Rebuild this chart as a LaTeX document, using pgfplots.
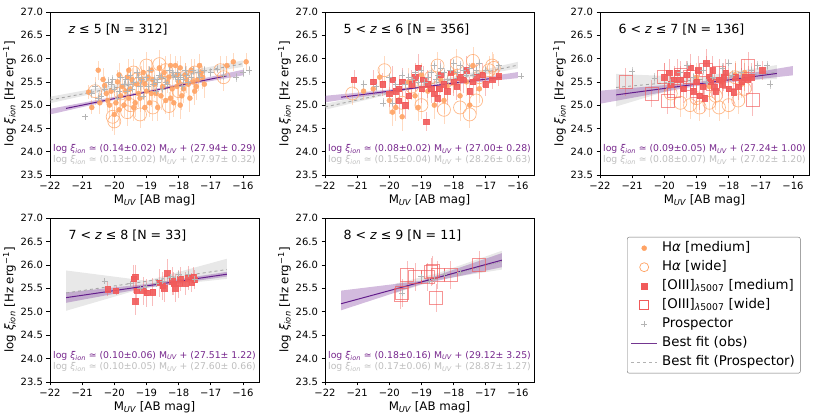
\documentclass[border=0pt]{standalone}
\usepackage{fontspec}
\setmainfont{DejaVu Sans}
\usepackage{pgfplots}
\pgfplotsset{compat=1.18}
\definecolor{haor}{RGB}{255,163,100}
\definecolor{oiii}{RGB}{241,90,90}
\definecolor{pros}{RGB}{180,180,180}
\definecolor{fitp}{RGB}{100,30,140}
\definecolor{bandp}{RGB}{128,60,160}
\definecolor{txtp}{RGB}{118,38,140}
\definecolor{txtg}{RGB}{190,190,190}
\newcommand{\xion}{{\itshape ξ}\textsubscript{\itshape ion}}
\newcommand{\muv}{M\textsubscript{\itshape UV}}
\tikzset{
 ttl/.style={anchor=west, font=\fontsize{12.6}{15}\selectfont},
 ann/.style={font=\fontsize{9.3}{11}\selectfont},
}
\pgfplotsset{
 panel/.style={scale only axis, width=209pt, height=163pt,
  xmin=-22, xmax=-15.5, ymin=23.5, ymax=27.0,
  xtick={-22,-21,-20,-19,-18,-17,-16},
  xticklabels={−22,−21,−20,−19,−18,−17,−16},
  ytick={23.5,24.0,24.5,25.0,25.5,26.0,26.5,27.0},
  yticklabel style={/pgf/number format/.cd, fixed, fixed zerofill, precision=1, assume math mode=true},
  tick label style={font=\fontsize{10}{12}\selectfont},
  label style={font=\fontsize{11.8}{13}\selectfont},
  xlabel={\muv{} [AB mag]}, ylabel={log \xion{} [Hz erg\textsuperscript{−1}]},
  tick align=outside, xtick pos=bottom, ytick pos=left,
  major tick length=3.5pt, tick style={black, line width=0.6pt},
  axis line style={line width=0.6pt},
  xlabel style={yshift=2pt}, ylabel style={yshift=-2pt},
 },
 hamed/.style={only marks, mark=*, mark size=2.5pt, color=haor,
  mark options={fill=haor, draw=haor, opacity=0.9},
  error bars/.cd, y dir=both, y explicit, error mark=none,
  error bar style={haor, opacity=0.4, line width=0.8pt}},
 hawide/.style={only marks, mark=o, mark size=6.5pt, color=haor,
  mark options={draw=haor, line width=0.7pt, opacity=0.75},
  error bars/.cd, y dir=both, y explicit, error mark=none,
  error bar style={haor, opacity=0.4, line width=0.8pt}},
 omed/.style={only marks, mark=square*, mark size=2.7pt, color=oiii,
  mark options={fill=oiii, draw=oiii, opacity=0.9},
  error bars/.cd, y dir=both, y explicit, error mark=none,
  error bar style={oiii, opacity=0.4, line width=0.8pt}},
 owide/.style={only marks, mark=square, mark size=6.5pt, color=oiii,
  mark options={draw=oiii, line width=0.7pt, opacity=0.65},
  error bars/.cd, y dir=both, y explicit, error mark=none,
  error bar style={oiii, opacity=0.4, line width=0.8pt}},
 prosp/.style={only marks, mark=+, mark size=3pt, color=pros,
  mark options={draw=pros, line width=0.6pt},
  error bars/.cd, y dir=both, y explicit, error mark=none,
  error bar style={pros, opacity=0.6, line width=0.6pt}},
 pband/.style={fill=bandp, fill opacity=0.35, draw=none},
 gband/.style={fill=black!30, fill opacity=0.3, draw=none},
 obsfit/.style={fitp, line width=1pt},
 prfit/.style={black!35, dashed, line width=0.9pt},
 marklegend/.style={legend image code/.code={\draw[mark repeat=2,mark phase=2,##1] plot coordinates {(0pt,0pt) (13pt,0pt) (26pt,0pt)};}},
 linelegend/.style={legend image code/.code={\draw[##1] (0pt,0pt) -- (26pt,0pt);}},
}
\begin{document}
\begin{tikzpicture}
\path[use as bounding box] (0,0) rectangle (831pt,419pt);
% ---------------- Panel 1 ----------------
\begin{axis}[panel, at={(50pt,244pt)}, anchor=south west]
\addplot[gband] coordinates {(-22,25.04) (-19,25.50) (-16,25.82) (-16,25.96) (-19,25.56) (-22,25.18)} -- cycle;
\addplot[pband] coordinates {(-22,24.80) (-19,25.27) (-16,25.64) (-16,25.76) (-19,25.31) (-22,24.92)} -- cycle;
\addplot[hamed] table[y error=e] {
x y e
-20.8 25.28 0.15
-20.7 24.95 0.15
-20.5 25.75 0.2
-20.3 25.42 0.2
-20.2 25.1 0.25
-20.1 25.3 0.2
-20.0 24.8 0.3
-19.9 25.5 0.25
-19.8 25.2 0.3
-19.7 25.0 0.25
-19.6 25.6 0.2
-19.5 25.35 0.3
-19.4 24.95 0.3
-19.3 25.45 0.25
-19.2 25.15 0.3
-19.1 25.7 0.25
-19.0 25.3 0.3
-18.9 25.05 0.3
-18.8 25.55 0.25
-18.7 25.25 0.3
-18.6 25.8 0.2
-18.5 25.4 0.3
-18.4 25.1 0.3
-18.3 25.6 0.25
-18.2 25.35 0.3
-18.1 25.85 0.2
-18.0 25.5 0.3
-17.9 25.2 0.3
-17.8 25.65 0.25
-17.7 25.45 0.3
-17.6 25.75 0.25
-17.5 25.3 0.3
-17.4 25.55 0.25
-17.3 25.7 0.2
-17.2 25.45 0.3
-16.5 25.85 0.2
-16.3 25.93 0.2
-15.9 25.93 0.2
-19.95 25.05 0.25
-19.45 25.55 0.25
-18.95 25.6 0.25
-18.45 25.7 0.2
-18.15 25.05 0.3
-17.95 25.8 0.25
-19.25 25.25 0.3
-18.65 24.95 0.3
-19.75 25.4 0.25
-18.35 25.5 0.25
-17.65 25.15 0.3
-20.25 25.25 0.25
-19.55 25.15 0.3
-19.05 25.45 0.3
-18.55 25.2 0.3
-18.05 25.4 0.3
-17.55 25.5 0.3
-19.85 25.65 0.25
-18.85 25.75 0.25
-17.85 25.35 0.3
-20.35 25.55 0.25
-20.15 25.0 0.3
-19.65 25.3 0.3
-19.35 25.05 0.3
-19.15 25.55 0.3
-18.75 25.45 0.3
-18.25 25.15 0.3
-17.75 25.55 0.3
-17.45 25.4 0.3
-17.25 25.6 0.25
-19.05 24.95 0.3
-18.55 25.6 0.3
-18.05 25.65 0.3
-19.55 25.75 0.25
-20.45 25.05 0.25
-17.35 25.85 0.25
-18.85 25.25 0.3
-19.85 24.9 0.3
-18.25 25.85 0.25
-17.95 25.0 0.3
};
\addplot[hawide] table[y error=e] {
x y e
-20.0 24.65 0.3
-20.05 24.75 0.3
-19.6 24.85 0.3
-19.2 24.8 0.3
-18.8 24.95 0.3
-18.3 24.98 0.3
-19.0 25.85 0.3
-18.6 25.88 0.3
-18.4 25.75 0.3
-19.3 25.55 0.3
-19.8 25.25 0.3
-17.8 25.6 0.3
-16.7 25.75 0.3
-16.6 25.6 0.3
-20.6 25.3 0.3
-19.5 25.0 0.3
-18.0 25.3 0.3
-17.5 25.7 0.3
-18.9 25.4 0.3
-19.4 25.7 0.3
};
\addplot[prosp] table[y error=e] {
x y e
-20.9 24.75 0.05
-20.6 25.4 0.1
-20.4 25.2 0.1
-20.2 25.5 0.1
-20.0 25.35 0.1
-19.8 25.6 0.1
-19.6 25.3 0.1
-19.4 25.5 0.1
-19.2 25.4 0.1
-19.0 25.6 0.1
-18.8 25.45 0.1
-18.6 25.65 0.1
-18.4 25.5 0.1
-18.2 25.7 0.1
-18.0 25.55 0.1
-17.8 25.75 0.1
-17.6 25.6 0.1
-17.4 25.7 0.1
-17.2 25.75 0.1
-17.0 25.7 0.1
-16.6 25.65 0.1
-16.2 25.6 0.1
-15.8 25.75 0.1
-16.0 25.7 0.1
-19.9 25.15 0.1
-19.5 25.65 0.1
-19.1 25.2 0.1
-18.7 25.3 0.1
-18.3 25.75 0.1
-17.9 25.4 0.1
-20.1 25.45 0.1
-19.3 25.7 0.1
-18.5 25.35 0.1
-17.7 25.5 0.1
-20.5 25.15 0.1
-20.7 25.25 0.1
-16.8 25.78 0.1
-18.9 25.75 0.1
-19.7 25.45 0.1
-18.1 25.6 0.1
-20.3 25.35 0.1
-20.05 25.55 0.1
-19.85 25.3 0.1
-19.65 25.55 0.1
-19.45 25.35 0.1
-19.15 25.55 0.1
-18.95 25.4 0.1
-18.75 25.55 0.1
-18.55 25.6 0.1
-18.35 25.45 0.1
-18.15 25.65 0.1
-17.95 25.6 0.1
-17.75 25.65 0.1
-17.55 25.75 0.1
-17.35 25.6 0.1
-19.55 25.45 0.1
-18.65 25.5 0.1
-18.05 25.7 0.1
-17.85 25.55 0.1
-19.25 25.6 0.1
};
\addplot[prfit] coordinates {(-22,25.11) (-16,25.89)};
\addplot[obsfit] coordinates {(-21.5,24.93) (-16.5,25.63)};
\node[ttl] at (rel axis cs:0.072,0.89) {{\itshape z} ≤ 5 [N = 312]};
\node[ann, text=txtp] at (rel axis cs:0.5,0.16) {log \xion{} ≃ (0.14±0.02) \muv{} + (27.94± 0.29)};
\node[ann, text=txtg] at (rel axis cs:0.5,0.091) {log \xion{} ≃ (0.13±0.02) \muv{} + (27.97± 0.32)};
\end{axis}
% ---------------- Panel 2 ----------------
\begin{axis}[panel, at={(325pt,244pt)}, anchor=south west]
\addplot[gband] coordinates {(-22,24.90) (-19,25.40) (-16,25.79) (-16,25.93) (-19,25.45) (-22,25.03)} -- cycle;
\addplot[pband] coordinates {(-22,25.06) (-19,25.37) (-16,25.58) (-16,25.71) (-19,25.40) (-22,25.20)} -- cycle;
\addplot[hamed] table[y error=e] {
x y e
-20.8 25.3 0.2
-20.5 25.35 0.2
-20.3 25.6 0.2
-20.0 25.1 0.3
-19.8 24.95 0.3
-19.6 24.75 0.3
-19.4 25.5 0.3
-19.2 25.2 0.3
-19.0 25.65 0.25
-18.8 25.3 0.3
-18.6 25.0 0.3
-18.4 25.55 0.3
-18.2 25.4 0.3
-18.0 25.7 0.25
-17.8 25.2 0.3
-17.6 25.5 0.3
-17.4 25.85 0.25
-17.2 25.35 0.3
-19.9 24.85 0.3
-19.1 24.95 0.3
-18.3 25.1 0.3
-17.5 25.0 0.3
};
\addplot[hawide] table[y error=e] {
x y e
-21.15 25.25 0.25
-20.15 25.75 0.3
-19.6 25.05 0.3
-19.0 25.0 0.3
-18.7 25.6 0.3
-18.3 24.9 0.3
-17.8 24.95 0.3
-17.5 24.8 0.3
-17.3 25.1 0.3
-16.75 25.8 0.3
-17.9 25.9 0.3
-17.4 25.95 0.3
-16.9 25.75 0.3
-18.5 25.85 0.3
-16.8 25.85 0.3
-19.3 25.4 0.3
-18.0 25.55 0.3
-17.2 25.6 0.3
};
\addplot[omed] table[y error=e] {
x y e
-21.1 25.55 0.2
-20.2 25.45 0.25
-19.8 25.3 0.3
-19.6 25.5 0.3
-19.4 25.2 0.3
-19.2 25.6 0.3
-19.0 25.35 0.3
-18.85 24.65 0.2
-18.8 25.45 0.3
-18.6 25.25 0.3
-18.4 25.65 0.3
-18.2 25.3 0.3
-18.0 25.5 0.3
-17.9 25.4 0.3
-17.7 25.55 0.3
-17.5 25.3 0.3
-17.3 25.6 0.3
-17.0 25.45 0.25
-16.6 25.62 0.2
-16.8 25.55 0.2
-19.5 25.0 0.3
-18.5 25.15 0.3
-17.6 25.75 0.3
-20.0 25.25 0.3
-18.1 25.7 0.3
-19.1 25.8 0.3
-20.5 25.5 0.25
-19.9 25.55 0.3
-19.7 25.35 0.3
-19.3 25.45 0.3
-18.95 25.55 0.3
-18.7 25.35 0.3
-18.3 25.45 0.3
-17.8 25.6 0.3
-17.4 25.5 0.3
-17.1 25.65 0.25
-19.7 25.1 0.3
-18.45 25.35 0.3
};
\addplot[prosp] table[y error=e] {
x y e
-20.8 25.45 0.1
-20.2 25.05 0.1
-19.9 25.05 0.1
-20.0 25.6 0.1
-19.6 25.65 0.1
-19.3 25.55 0.1
-19.0 25.75 0.1
-18.7 25.7 0.1
-18.4 25.8 0.1
-18.1 25.75 0.1
-17.8 25.85 0.1
-17.5 25.8 0.1
-17.2 25.9 0.1
-17.0 25.75 0.1
-16.6 25.85 0.1
-15.9 25.62 0.05
-19.5 25.45 0.1
-19.1 25.5 0.1
-18.8 25.6 0.1
-18.5 25.65 0.1
-18.2 25.55 0.1
-17.9 25.7 0.1
-17.6 25.65 0.1
-17.3 25.75 0.1
-20.4 25.4 0.1
-18.0 25.9 0.1
-18.6 25.85 0.1
-19.8 25.45 0.1
-19.4 25.6 0.1
-18.9 25.5 0.1
-18.3 25.7 0.1
-17.7 25.75 0.1
-17.4 25.65 0.1
-19.2 25.7 0.1
-18.55 25.55 0.1
};
\addplot[prfit] coordinates {(-22,24.96) (-16,25.86)};
\addplot[obsfit] coordinates {(-21.5,25.17) (-16.5,25.60)};
\node[ttl] at (rel axis cs:0.072,0.89) {5 < {\itshape z} ≤ 6 [N = 356]};
\node[ann, text=txtp] at (rel axis cs:0.5,0.16) {log \xion{} ≃ (0.08±0.02) \muv{} + (27.00± 0.28)};
\node[ann, text=txtg] at (rel axis cs:0.5,0.091) {log \xion{} ≃ (0.15±0.04) \muv{} + (28.26± 0.63)};
\end{axis}
% ---------------- Panel 3 ----------------
\begin{axis}[panel, at={(600pt,244pt)}, anchor=south west]
\addplot[gband] coordinates {(-21.5,24.97) (-19,25.49) (-16.5,25.56) (-16.5,25.86) (-19,25.60) (-21.5,25.67)} -- cycle;
\addplot[pband] coordinates {(-22,25.03) (-19,25.41) (-16,25.64) (-16,25.84) (-19,25.49) (-22,25.31)} -- cycle;
\addplot[hawide] table[y error=e] {
x y e
-19.8 25.25 0.3
-19.5 25.05 0.3
-19.2 25.0 0.3
-18.9 24.95 0.3
-18.6 25.05 0.3
-18.3 24.95 0.3
-18.0 25.0 0.3
-17.7 25.1 0.3
-17.5 25.35 0.3
-17.8 25.6 0.3
-19.0 25.15 0.3
-18.4 25.2 0.3
};
\addplot[hamed] table[y error=e] {
x y e
-19.0 25.6 0.3
-18.6 25.4 0.3
-18.2 25.5 0.3
-17.8 25.65 0.3
-17.6 25.45 0.3
-17.5 25.7 0.3
};
\addplot[omed] table[y error=e] {
x y e
-20.0 25.6 0.3
-19.8 25.45 0.3
-19.6 25.7 0.3
-19.4 25.35 0.3
-19.2 25.8 0.3
-19.0 25.5 0.3
-18.9 25.2 0.3
-18.8 25.4 0.3
-18.75 25.15 0.3
-18.6 25.6 0.3
-18.5 25.75 0.3
-18.4 25.3 0.3
-18.3 25.55 0.3
-18.2 25.45 0.3
-18.1 25.7 0.3
-18.0 25.35 0.3
-17.85 25.28 0.3
-17.8 25.6 0.3
-17.6 25.5 0.3
-17.4 25.55 0.3
-17.3 25.6 0.3
-16.95 25.75 0.2
-19.5 25.55 0.3
-19.1 25.3 0.3
-18.7 25.9 0.3
-18.45 25.4 0.3
-19.7 25.55 0.3
-19.3 25.65 0.3
-18.95 25.75 0.3
-18.55 25.5 0.3
-18.15 25.6 0.3
-17.7 25.4 0.3
-17.5 25.6 0.3
-19.85 25.7 0.3
};
\addplot[owide] table[y error=e] {
x y e
-21.2 25.5 0.3
-20.4 25.25 0.3
-20.0 25.6 0.3
-19.9 25.1 0.3
-19.7 25.3 0.3
-19.5 25.65 0.3
-19.3 25.45 0.3
-19.0 25.3 0.3
-18.7 25.75 0.3
-18.3 25.7 0.3
-18.0 25.5 0.3
-17.4 25.85 0.3
-17.25 25.12 0.35
-19.2 25.6 0.3
-18.5 25.45 0.3
};
\addplot[prosp] table[y error=e] {
x y e
-21.0 25.72 0.1
-20.3 25.58 0.1
-19.8 25.5 0.1
-19.5 25.7 0.1
-19.1 25.6 0.1
-18.8 25.75 0.1
-18.5 25.6 0.1
-18.2 25.8 0.1
-17.9 25.65 0.1
-17.6 25.7 0.1
-17.3 25.75 0.1
-17.1 25.85 0.1
-16.8 25.85 0.1
-16.7 25.45 0.1
-18.0 25.9 0.1
-18.7 25.5 0.1
-19.3 25.85 0.1
};
\addplot[prfit] coordinates {(-21.5,25.38) (-16.5,25.70)};
\addplot[obsfit] coordinates {(-21.5,25.22) (-16.5,25.68)};
\node[ttl] at (rel axis cs:0.072,0.89) {6 < {\itshape z} ≤ 7 [N = 136]};
\node[ann, text=txtp] at (rel axis cs:0.5,0.16) {log \xion{} ≃ (0.09±0.05) \muv{} + (27.24± 1.00)};
\node[ann, text=txtg] at (rel axis cs:0.5,0.091) {log \xion{} ≃ (0.08±0.07) \muv{} + (27.02± 1.20)};
\end{axis}
% ---------------- Panel 4 ----------------
\begin{axis}[panel, height=164pt, at={(50pt,37pt)}, anchor=south west]
\addplot[gband] coordinates {(-21.5,25.02) (-19,25.52) (-16.5,25.70) (-16.5,26.13) (-19,25.66) (-21.5,25.88)} -- cycle;
\addplot[pband] coordinates {(-21.5,25.19) (-19,25.51) (-16.5,25.75) (-16.5,25.85) (-19,25.59) (-21.5,25.41)} -- cycle;
\addplot[omed] table[y error=e] {
x y e
-20.2 25.48 0.15
-19.95 25.45 0.1
-19.4 25.7 0.3
-19.35 25.22 0.3
-19.3 25.45 0.3
-19.1 25.45 0.3
-19.0 25.4 0.3
-18.8 25.42 0.3
-18.6 25.62 0.3
-18.5 25.55 0.3
-18.45 25.5 0.3
-18.35 25.82 0.3
-18.2 25.65 0.3
-18.1 25.5 0.3
-18.0 25.6 0.3
-17.95 25.7 0.25
-17.8 25.6 0.25
-17.7 25.72 0.25
-17.6 25.62 0.2
-17.55 25.75 0.2
-17.5 25.68 0.2
-18.15 25.6 0.25
-19.35 25.75 0.25
};
\addplot[prosp] table[y error=e] {
x y e
-20.3 25.65 0.05
-19.5 25.6 0.05
-19.0 25.55 0.05
-18.5 25.65 0.05
-18.25 25.75 0.05
-18.0 25.8 0.05
-17.7 25.8 0.05
-17.5 25.7 0.05
-19.2 25.5 0.05
-18.7 25.6 0.05
};
\addplot[prfit] coordinates {(-21.5,25.40) (-16.5,25.90)};
\addplot[obsfit] coordinates {(-21.5,25.30) (-16.5,25.80)};
\node[ttl] at (rel axis cs:0.072,0.89) {7 < {\itshape z} ≤ 8 [N = 33]};
\node[ann, text=txtp] at (rel axis cs:0.5,0.16) {log \xion{} ≃ (0.10±0.06) \muv{} + (27.51± 1.22)};
\node[ann, text=txtg] at (rel axis cs:0.5,0.091) {log \xion{} ≃ (0.10±0.05) \muv{} + (27.60± 0.66)};
\end{axis}
% ---------------- Panel 5 ----------------
\begin{axis}[panel, height=164pt, at={(325pt,37pt)}, anchor=south west]
\addplot[gband] coordinates {(-19.8,25.40) (-18.5,25.68) (-16.5,25.90) (-16.5,26.30) (-18.5,25.82) (-19.8,25.60)} -- cycle;
\addplot[pband] coordinates {(-21.5,25.03) (-19,25.59) (-16.5,25.95) (-16.5,26.25) (-19,25.66) (-21.5,25.45)} -- cycle;
\addplot[owide] table[y error=e] {
x y e
-19.65 25.35 0.3
-19.6 25.4 0.3
-19.45 25.78 0.3
-19.2 25.75 0.3
-18.8 25.75 0.3
-18.7 25.85 0.3
-18.65 25.88 0.3
-18.55 25.3 0.3
-18.5 25.78 0.3
-18.1 25.78 0.3
-17.2 26.0 0.3
};
\addplot[prosp] table[y error=e] {
x y e
-19.6 25.4 0.05
-19.0 25.75 0.05
-18.75 25.65 0.05
-18.6 25.7 0.05
-18.3 25.8 0.05
-17.8 25.85 0.05
};
\addplot[black!35, densely dotted, line width=1pt] coordinates {(-19.0,25.64) (-16.5,26.07)};
\addplot[obsfit] coordinates {(-21.5,25.17) (-16.5,26.10)};
\node[ttl] at (rel axis cs:0.072,0.89) {8 < {\itshape z} ≤ 9 [N = 11]};
\node[ann, text=txtp] at (rel axis cs:0.5,0.16) {log \xion{} ≃ (0.18±0.16) \muv{} + (29.12± 3.25)};
\node[ann, text=txtg] at (rel axis cs:0.5,0.091) {log \xion{} ≃ (0.17±0.06) \muv{} + (28.87± 1.27)};
\end{axis}
% ---------------- Legend ----------------
\begin{axis}[scale only axis, width=175pt, height=138pt, at={(627pt,182pt)}, anchor=north west,
  hide axis, xmin=0, xmax=1, ymin=0, ymax=1,
  legend style={at={(0,1)}, anchor=north west, draw=black!55, rounded corners=2pt,
    font=\fontsize{13.3}{15}\selectfont, inner xsep=3.5pt, inner ysep=1.5pt,
    nodes={text height=10pt, text depth=3pt, inner ysep=3pt},
    /tikz/every odd column/.append style={column sep=2.5pt}},
  legend cell align=left]
\addlegendimage{marklegend, only marks, mark=*, mark size=2.5pt, haor}
\addlegendentry{H{\itshape α} [medium]}
\addlegendimage{marklegend, only marks, mark=o, mark size=4.5pt, haor, line width=0.7pt}
\addlegendentry{H{\itshape α} [wide]}
\addlegendimage{marklegend, only marks, mark=square*, mark size=2.7pt, oiii}
\addlegendentry{[OIII]\textsubscript{{\itshape λ}5007} [medium]}
\addlegendimage{marklegend, only marks, mark=square, mark size=4.5pt, oiii, line width=0.7pt}
\addlegendentry{[OIII]\textsubscript{{\itshape λ}5007} [wide]}
\addlegendimage{marklegend, only marks, mark=+, mark size=3pt, pros}
\addlegendentry{Prospector}
\addlegendimage{linelegend, bandp!90!black, line width=1pt}
\addlegendentry{Best fit (obs)}
\addlegendimage{linelegend, black!30, dashed, line width=0.8pt}
\addlegendentry{Best fit (Prospector)}
\end{axis}
\end{tikzpicture}
\end{document}
